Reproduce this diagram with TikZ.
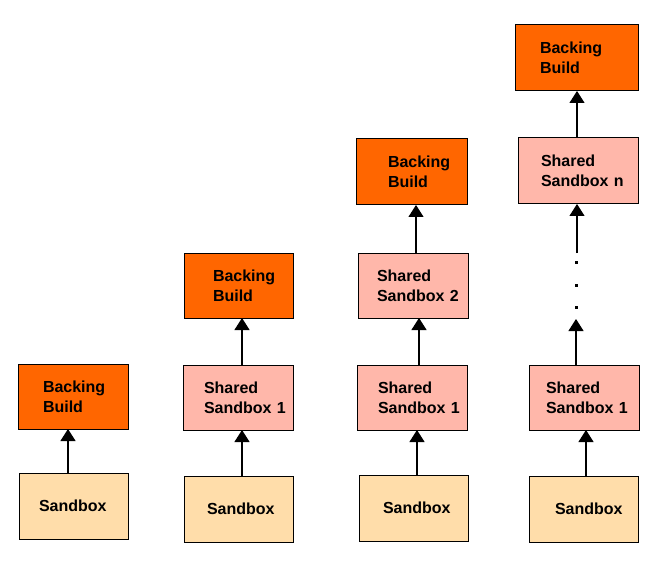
\documentclass[tikz,border=0pt]{standalone}
\usepackage{fontspec}
\setmainfont{Liberation Sans}
\usetikzlibrary{arrows.meta}
\definecolor{bborange}{RGB}{255,102,0}
\definecolor{sspink}{RGB}{255,183,170}
\definecolor{sbpeach}{RGB}{255,221,170}
\tikzset{
  boxbase/.style={draw=black, line width=1pt, outer sep=0pt, inner ysep=0pt, align=left,
    font=\fontsize{16}{20}\selectfont\bfseries},
  backing/.style={boxbase, fill=bborange},
  shared/.style={boxbase, fill=sspink},
  sandbox/.style={boxbase, fill=sbpeach},
  arr/.style={line width=1.2pt, -{Triangle[length=12pt, width=15pt]}},
  dotsq/.style={fill=black}
}
\newcommand\mkbox[8]{%
  \pgfmathsetmacro\bw{#5-#3}%
  \pgfmathsetmacro\bh{#6-#4}%
  \pgfmathsetmacro\tw{#5-#3-2*#7}%
  \node[#2, anchor=north west, minimum width=\bw pt, minimum height=\bh pt,
        text width=\tw pt, inner xsep=#7 pt] (#1) at (#3,#4) {#8};}
\begin{document}
\begin{tikzpicture}[x=1pt, y=-1pt]
\useasboundingbox (0,0) rectangle (663,561);
% column 1
\mkbox{bbA}{backing}{18}{364}{128}{429}{25}{\mbox{Backing}\\Build}
\mkbox{sbA}{sandbox}{19}{473}{128}{539}{20}{Sandbox}
% column 2
\mkbox{bbB}{backing}{184}{253}{293}{318}{29}{\mbox{Backing}\\Build}
\mkbox{ssB}{shared}{183}{365}{293}{430}{21}{Shared\\\mbox{Sandbox 1}}
\mkbox{sbB}{sandbox}{184}{476}{293}{542}{23}{Sandbox}
% column 3
\mkbox{bbC}{backing}{356}{139}{467}{205}{32}{\mbox{Backing}\\Build}
\mkbox{ssCb}{shared}{358}{253}{468}{318}{19}{Shared\\\mbox{Sandbox 2}}
\mkbox{ssCa}{shared}{357}{365}{467}{430}{21}{Shared\\\mbox{Sandbox 1}}
\mkbox{sbC}{sandbox}{359}{475}{468}{541}{24}{Sandbox}
% column 4
\mkbox{bbD}{backing}{515}{25}{638}{91}{25}{\mbox{Backing}\\Build}
\mkbox{ssDn}{shared}{518}{138}{638}{204}{23}{Shared\\\mbox{Sandbox n}}
\mkbox{ssDa}{shared}{529}{365}{639}{430}{17}{Shared\\\mbox{Sandbox 1}}
\mkbox{sbD}{sandbox}{529}{476}{638}{542}{26}{Sandbox}
% arrow x positions
\coordinate (xA) at (68,0);
\coordinate (xB) at (242,0);
\coordinate (xC1) at (416,0);
\coordinate (xC2) at (419,0);
\coordinate (xC3) at (417,0);
\coordinate (xD1) at (577,0);
\coordinate (xD3) at (586,0);
\coordinate (dA) at (577,253);
\coordinate (dBtip) at (576,319);
% arrows
\draw[arr] (sbA.north -| xA) -- (bbA.south -| xA);
\draw[arr] (ssB.north -| xB) -- (bbB.south -| xB);
\draw[arr] (sbB.north -| xB) -- (ssB.south -| xB);
\draw[arr] (ssCb.north -| xC1) -- (bbC.south -| xC1);
\draw[arr] (ssCa.north -| xC2) -- (ssCb.south -| xC2);
\draw[arr] (sbC.north -| xC3) -- (ssCa.south -| xC3);
\draw[arr] (ssDn.north -| xD1) -- (bbD.south -| xD1);
\draw[arr] (dA) -- (ssDn.south -| dA);
\draw[arr] (ssDa.north -| dBtip) -- (dBtip);
\draw[arr] (sbD.north -| xD3) -- (ssDa.south -| xD3);
% dots
\fill[dotsq] (574.5,260.5) rectangle (577.5,263.5);
\fill[dotsq] (574.5,283.5) rectangle (577.5,286.5);
\fill[dotsq] (574.5,305.5) rectangle (577.5,308.5);
\end{tikzpicture}
\end{document}
